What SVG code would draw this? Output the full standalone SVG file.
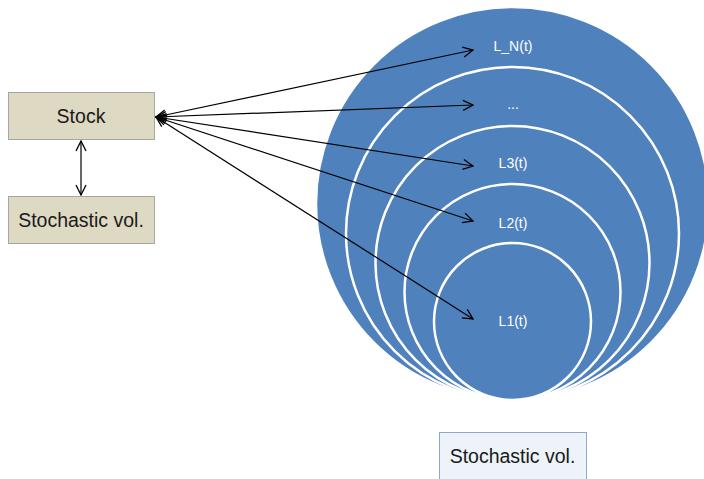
<svg xmlns="http://www.w3.org/2000/svg" width="704" height="479" viewBox="0 0 704 479">
  <defs>
    <marker id="open" viewBox="0 0 12 12" refX="11" refY="6" markerWidth="12" markerHeight="12" markerUnits="userSpaceOnUse" orient="auto-start-reverse">
      <path d="M1,1 L11,6 L1,11" fill="none" stroke="#000" stroke-width="1.3"/>
    </marker>
    <style>
      .box { fill: #ddd9c3; stroke: #a6a6a6; stroke-width: 1; }
      .box2 { fill: #eef3f9; stroke: #8eaacb; stroke-width: 1; }
      .ring { fill: #4f81bd; stroke: #ffffff; stroke-width: 2.5; }
      .label { font-family: "Liberation Sans", Arial, sans-serif; font-size: 19.5px; fill: #1a1a1a; text-anchor: middle; }
      .lvl { font-family: "Liberation Sans", Arial, sans-serif; font-size: 14px; fill: #ffffff; text-anchor: middle; }
      .conn { fill: none; stroke: #000; stroke-width: 1.2; marker-start: url(#open); marker-end: url(#open); }
    </style>
  </defs>

  <rect width="704" height="479" fill="#ffffff"/>

  <!-- nested levels, all tangent at the bottom point -->
  <g id="levels">
    <circle class="ring" cx="512.5" cy="203.5" r="196.5" stroke-width="1"/>
    <circle class="ring" cx="512.5" cy="233.5" r="166.5"/>
    <circle class="ring" cx="512.5" cy="263" r="137"/>
    <circle class="ring" cx="512.5" cy="292" r="108"/>
    <circle class="ring" cx="512.5" cy="321.5" r="78.5"/>
  </g>

  <g id="level-labels">
    <text class="lvl" x="513" y="51">L_N(t)</text>
    <text class="lvl" x="513" y="109">...</text>
    <text class="lvl" x="513" y="168">L3(t)</text>
    <text class="lvl" x="513" y="228">L2(t)</text>
    <text class="lvl" x="513" y="326">L1(t)</text>
  </g>

  <g id="stock">
    <rect class="box" x="8.5" y="92.5" width="146" height="47"/>
    <text class="label" x="81" y="123">Stock</text>
  </g>

  <g id="stoch-vol-left">
    <rect class="box" x="8.5" y="196.5" width="146" height="47"/>
    <text class="label" x="81" y="227">Stochastic vol.</text>
  </g>

  <g id="stoch-vol-bottom">
    <rect class="box2" x="439.5" y="432.5" width="147" height="50"/>
    <text class="label" x="512.5" y="463">Stochastic vol.</text>
  </g>

  <g id="connectors">
    <line class="conn" x1="81" y1="141" x2="81" y2="195"/>
    <line class="conn" x1="156" y1="117" x2="473" y2="50"/>
    <line class="conn" x1="156" y1="117" x2="473" y2="105"/>
    <line class="conn" x1="156" y1="117" x2="473" y2="166"/>
    <line class="conn" x1="156" y1="117" x2="473" y2="221"/>
    <line class="conn" x1="156" y1="117" x2="473" y2="319"/>
  </g>
</svg>
